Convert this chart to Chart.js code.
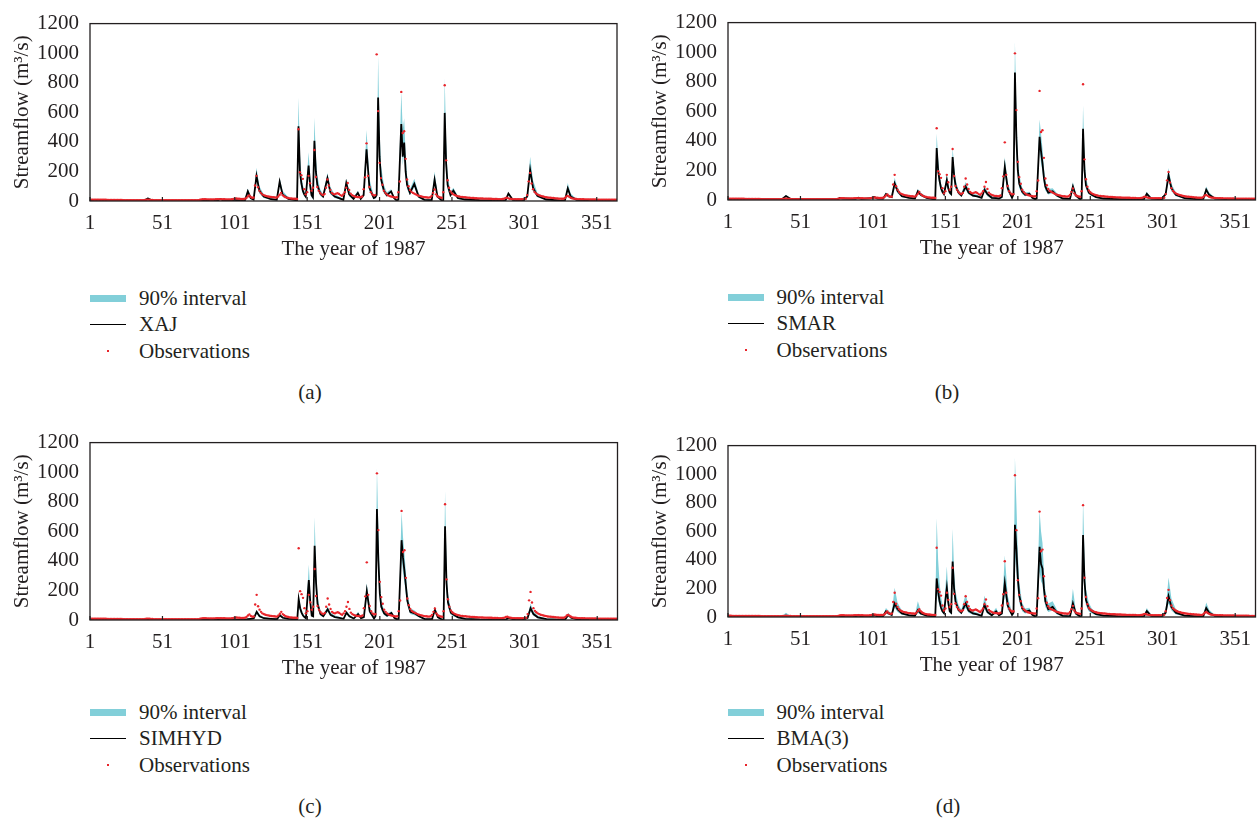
<!DOCTYPE html>
<html>
<head>
<meta charset="utf-8">
<title>Streamflow 1987</title>
<script src="https://cdn.jsdelivr.net/npm/chart.js@4.4.1/dist/chart.umd.min.js"></script>
<style>
  html, body { margin: 0; padding: 0; background: #fff; }
  body { position: relative; width: 1260px; height: 822px; overflow: hidden;
         font-family: "Liberation Serif", "DejaVu Serif", serif; color: #231f20; }
  canvas { position: absolute; }
  .row { position: absolute; height: 26px; line-height: 26px; font-size: 21px; white-space: nowrap; }
  .sw { position: absolute; }
  .cap { position: absolute; font-size: 21px; line-height: 24px; transform: translateX(-50%); }
</style>
</head>
<body>
<script>
// Days where the simulated series change slope (shared by all four panels)
const keyDays = [
  1, 38, 41, 44, 55, 77, 78, 80, 89,
  91, 93, 100, 102, 104, 108, 110, 112, 114, 116,
  118, 121, 126, 130, 132, 134, 138, 143, 144, 145,
  146, 147, 148, 149, 150, 152, 153, 154, 155, 156,
  157, 158, 160, 162, 165, 167, 170, 173, 176, 178,
  180, 183, 186, 188, 190, 192, 194, 197, 198, 199, 200,
  201, 202, 204, 206, 209, 211, 213, 214, 216, 217,
  218, 219, 220, 222, 225, 228, 232, 237, 239, 241,
  244, 245, 246, 247, 248, 250, 252, 255, 260, 270,
  288, 290, 293, 300, 303, 305, 307, 310,
  316, 325, 329, 331, 333, 337, 350, 365
];
const xTicks = [1, 51, 101, 151, 201, 251, 301, 351];

// Observed daily streamflow, day 1..365 (same in all panels)
const observed = [
  9,9,9,8,8,8,8,8,8,8, 8,8,7,7,7,7,7,7,7,7, 7,7,7,6,6,6,6,6,6,6, 6,6,6,6,6,6,6,6,7,8,
  9,8,7,7,6,6,6,6,6,6, 6,6,6,6,6,6,6,5,5,5, 5,5,5,5,5,5,5,5,5,5, 5,5,5,5,5,6,8,10,12,12,
  12,11,11,10,10,10,11,12,13,13, 12,12,12,12,11,11,11,11,12,14, 16,17,16,15,14,14,14,15,20,30,
  38,27,22,24,105,170,93,70,55,45, 40,36,33,31,29,27,26,25,24,23, 30,42,55,40,32,26,22,20,18,17,
  16,15,15,14,485,195,175,150,80,45, 60,170,120,70,90,345,162,95,70,55, 45,40,48,90,145,105,75,55,48,45,
  50,52,48,40,35,45,60,90,122,75, 50,40,35,30,28,27,26,25,30,80, 160,390,170,95,60,45,38,40,992,608,
  258,155,110,70,55,45,38,33,30,28, 26,24,25,60,132,738,460,472,285,145, 100,75,62,55,50,45,40,36,33,30,
  28,26,25,24,23,25,35,55,78,45, 32,27,24,22,60,783,275,140,90,65, 52,45,40,36,33,30,28,27,26,25,
  24,23,22,21,20,20,19,19,18,18, 17,17,16,16,16,15,15,15,14,14, 14,14,13,13,13,14,16,20,22,18,
  15,14,13,13,12,12,12,12,12,13, 14,15,40,133,190,118,80,62,52,45, 40,36,33,30,28,26,24,23,22,21,
  20,19,18,17,16,16,15,15,20,30, 35,28,22,18,16,15,14,13,13,12, 12,12,11,11,11,10,10,10,10,10,
  9,9,9,9,9,9,9,9,9,9, 8,8,8,8,8
];

// (a) XAJ
const xajSim = [
  3, 2, 17, 3, 2, 2, 6, 3, 3,
  12, 4, 3, 6, 4, 3, 65, 20, 10, 170,
  70, 30, 12, 8, 130, 45, 15, 6, 2, 505,
  200, 120, 70, 45, 30, 240, 110, 40, 25, 408,
  200, 110, 50, 30, 155, 60, 30, 20, 8, 122,
  45, 15, 55, 15, 40, 350, 90, 20, 25, 40, 700,
  300, 150, 70, 40, 65, 20, 2, 10, 520, 300,
  395, 200, 110, 55, 116, 30, 8, 5, 143, 30,
  3, 5, 596, 250, 110, 40, 70, 20, 10, 6,
  4, 50, 8, 3, 30, 210, 90, 35,
  10, 4, 3, 85, 30, 8, 3, 2
];
const xajHi = [
  8, 7, 25, 8, 6, 6, 10, 8, 7,
  18, 9, 8, 11, 9, 8, 85, 30, 18, 225,
  100, 45, 20, 14, 155, 70, 25, 12, 6, 700,
  320, 180, 110, 70, 45, 330, 170, 70, 45, 565,
  300, 170, 80, 45, 190, 95, 45, 30, 15, 150,
  75, 25, 70, 25, 55, 480, 150, 35, 40, 70, 980,
  480, 240, 110, 60, 80, 30, 6, 15, 740, 480,
  560, 320, 170, 80, 150, 50, 14, 10, 200, 50,
  6, 10, 830, 400, 170, 65, 90, 35, 18, 10,
  8, 60, 14, 7, 40, 300, 140, 55,
  18, 8, 6, 122, 50, 14, 6, 5
];
const xajLo = [
  1, 0, 10, 1, 0, 0, 3, 1, 1,
  7, 1, 1, 3, 1, 1, 50, 12, 5, 140,
  50, 20, 7, 4, 110, 30, 9, 2, 0, 420,
  150, 85, 50, 30, 20, 200, 80, 25, 15, 340,
  150, 80, 35, 20, 130, 45, 20, 12, 4, 100,
  30, 8, 45, 8, 30, 300, 65, 12, 15, 25, 600,
  230, 110, 50, 28, 55, 12, 0, 5, 450, 240,
  330, 150, 80, 40, 95, 20, 4, 2, 120, 20,
  0, 2, 520, 190, 80, 28, 55, 12, 6, 3,
  2, 40, 4, 1, 22, 175, 65, 25,
  6, 2, 1, 70, 22, 4, 1, 1
];

// (b) SMAR
const smarSim = [
  5, 4, 27, 8, 4, 5, 14, 10, 8,
  15, 8, 12, 20, 10, 8, 40, 25, 20, 112,
  60, 25, 15, 10, 59, 35, 15, 5, 3, 352,
  200, 130, 80, 55, 40, 135, 80, 50, 40, 291,
  170, 100, 50, 30, 91, 50, 30, 25, 15, 70,
  40, 15, 12, 10, 20, 225, 80, 15, 40, 862, 420,
  200, 110, 55, 35, 42, 15, 5, 10, 428, 330,
  250, 150, 90, 50, 59, 30, 10, 8, 91, 30,
  5, 10, 482, 200, 100, 50, 35, 20, 10, 6,
  5, 42, 10, 4, 40, 165, 80, 35,
  12, 5, 8, 70, 35, 10, 3, 2
];
const smarHi = [
  9, 7, 35, 12, 7, 8, 18, 14, 12,
  20, 12, 16, 26, 14, 12, 50, 35, 28, 150,
  85, 35, 20, 15, 75, 50, 22, 8, 6, 450,
  280, 180, 110, 75, 55, 170, 110, 70, 55, 355,
  230, 140, 70, 45, 122, 70, 42, 35, 22, 95,
  60, 25, 20, 18, 30, 290, 120, 25, 60, 1070, 600,
  300, 170, 85, 50, 55, 25, 8, 15, 545, 450,
  350, 220, 130, 75, 80, 45, 15, 12, 122, 45,
  8, 15, 640, 300, 150, 75, 50, 30, 15, 10,
  8, 55, 15, 7, 55, 217, 110, 50,
  18, 8, 12, 91, 50, 15, 6, 5
];
const smarLo = [
  3, 2, 20, 5, 2, 3, 10, 7, 5,
  10, 5, 8, 14, 6, 5, 30, 18, 14, 90,
  45, 18, 10, 6, 45, 25, 10, 3, 1, 280,
  150, 100, 60, 40, 30, 105, 60, 38, 30, 240,
  130, 75, 38, 22, 70, 38, 22, 18, 10, 55,
  25, 8, 6, 5, 12, 180, 55, 8, 25, 700, 320,
  150, 80, 40, 25, 30, 10, 2, 5, 340, 250,
  190, 110, 65, 38, 45, 20, 6, 4, 70, 20,
  2, 5, 380, 150, 75, 38, 25, 14, 6, 3,
  3, 30, 6, 2, 28, 130, 60, 25,
  8, 3, 5, 55, 25, 6, 1, 1
];

// (c) SIMHYD
const simhydSim = [
  2, 1, 2, 1, 1, 1, 3, 2, 2,
  3, 2, 4, 3, 2, 2, 5, 8, 10, 55,
  25, 12, 8, 5, 32, 15, 8, 4, 2, 140,
  80, 50, 30, 20, 12, 270, 120, 30, 25, 502,
  250, 110, 40, 25, 72, 35, 20, 15, 8, 50,
  25, 10, 40, 12, 20, 196, 60, 10, 25, 750, 400,
  180, 90, 45, 30, 48, 15, 3, 8, 540, 420,
  330, 230, 130, 55, 45, 25, 6, 5, 70, 20,
  2, 5, 634, 250, 120, 50, 35, 18, 8, 4,
  3, 15, 5, 2, 15, 80, 40, 18,
  6, 3, 5, 34, 15, 5, 2, 1
];
const simhydHi = [
  4, 3, 4, 3, 3, 3, 5, 4, 4,
  5, 4, 7, 5, 4, 4, 10, 14, 18, 70,
  35, 18, 12, 8, 42, 22, 12, 6, 4, 170,
  110, 70, 45, 30, 18, 376, 170, 45, 35, 697,
  350, 160, 60, 38, 90, 50, 30, 22, 12, 65,
  35, 15, 55, 18, 30, 249, 90, 15, 40, 1030, 600,
  270, 130, 65, 42, 60, 22, 6, 14, 735, 560,
  450, 320, 190, 80, 65, 38, 10, 8, 85, 30,
  5, 10, 872, 380, 180, 75, 50, 28, 12, 7,
  5, 22, 8, 4, 22, 112, 60, 28,
  10, 5, 8, 45, 22, 8, 4, 3
];
const simhydLo = [
  1, 0, 1, 0, 0, 0, 2, 1, 1,
  2, 1, 2, 2, 1, 1, 3, 5, 6, 40,
  18, 8, 5, 3, 24, 10, 5, 2, 1, 105,
  60, 38, 22, 14, 8, 200, 90, 22, 18, 380,
  180, 80, 28, 18, 55, 25, 14, 10, 5, 38,
  18, 6, 28, 8, 14, 150, 42, 6, 15, 600, 300,
  130, 65, 32, 20, 36, 10, 1, 4, 420, 320,
  250, 170, 95, 40, 32, 18, 3, 2, 55, 12,
  1, 2, 480, 180, 85, 35, 24, 12, 5, 2,
  1, 10, 3, 1, 10, 60, 28, 12,
  4, 1, 3, 25, 10, 3, 1, 0
];

// (d) BMA(3)
const bmaSim = [
  3, 2, 10, 3, 2, 3, 8, 5, 4,
  10, 4, 8, 12, 5, 5, 40, 25, 15, 95,
  55, 25, 12, 8, 48, 25, 10, 4, 2, 270,
  180, 110, 65, 40, 28, 204, 100, 40, 30, 389,
  200, 110, 50, 30, 95, 45, 25, 18, 8, 85,
  35, 12, 40, 12, 25, 237, 80, 15, 30, 646, 480,
  270, 150, 60, 38, 45, 15, 3, 10, 491, 370,
  340, 200, 110, 55, 70, 30, 8, 5, 95, 25,
  3, 8, 574, 250, 120, 60, 40, 20, 10, 6,
  4, 41, 8, 3, 30, 146, 70, 30,
  10, 4, 6, 63, 30, 8, 3, 2
];
const bmaHi = [
  8, 6, 30, 8, 6, 7, 14, 10, 8,
  22, 9, 14, 20, 10, 10, 63, 40, 30, 204,
  100, 45, 22, 15, 111, 45, 18, 8, 5, 693,
  400, 240, 140, 90, 50, 356, 180, 75, 55, 617,
  330, 180, 85, 50, 160, 80, 42, 30, 15, 150,
  60, 22, 65, 22, 45, 432, 150, 28, 60, 1117, 800,
  450, 240, 100, 60, 65, 25, 6, 18, 748, 600,
  520, 320, 180, 95, 110, 50, 14, 10, 198, 45,
  6, 15, 824, 420, 200, 100, 60, 32, 16, 10,
  8, 63, 14, 6, 50, 276, 130, 55,
  18, 8, 12, 102, 50, 14, 6, 5
];
const bmaLo = [
  1, 0, 5, 1, 0, 1, 4, 2, 1,
  5, 2, 4, 6, 2, 2, 22, 14, 8, 65,
  35, 15, 7, 4, 30, 15, 6, 2, 1, 180,
  120, 75, 45, 28, 18, 150, 70, 28, 20, 290,
  140, 75, 35, 20, 65, 30, 16, 12, 5, 55,
  22, 7, 25, 7, 15, 150, 50, 9, 18, 420, 320,
  180, 100, 40, 25, 30, 9, 1, 5, 320, 250,
  230, 130, 70, 35, 45, 18, 4, 2, 60, 14,
  1, 4, 380, 160, 80, 38, 25, 12, 6, 3,
  2, 25, 4, 1, 18, 95, 45, 18,
  6, 2, 3, 40, 18, 4, 1, 1
];

const bandColor = '#82cfd9';
const inkColor = '#231f20';
const obsColor = '#e8252b';

// plot rectangles (page pixels) and where the legend / caption go
const panels = [
  { name: 'XAJ',    sim: xajSim,    hi: xajHi,    lo: xajLo,    L: 90,    T: 11,    R: 617,    B: 201,   legY: 298, cap: '(a)', capX: 310, capY: 392 },
  { name: 'SMAR',   sim: smarSim,   hi: smarHi,   lo: smarLo,   L: 727.5, T: 10,    R: 1255,   B: 199.5, legY: 297, cap: '(b)', capX: 947, capY: 392 },
  { name: 'SIMHYD', sim: simhydSim, hi: simhydHi, lo: simhydLo, L: 90,    T: 430,   R: 617.5,  B: 619.5, legY: 712, cap: '(c)', capX: 310, capY: 806 },
  { name: 'BMA(3)', sim: bmaSim,    hi: bmaHi,    lo: bmaLo,    L: 727.5, T: 432.5, R: 1255,   B: 616.5, legY: 712, cap: '(d)', capX: 948, capY: 806 }
];

panels.forEach(p => {
  [p.sim, p.hi, p.lo].forEach(arr => {
    if (arr.length !== keyDays.length) console.error(p.name, 'length', arr.length, keyDays.length);
  });
});
if (observed.length !== 365) console.error('observed length', observed.length);

function toPoints(vals) {
  return keyDays.map((d, i) => ({ x: d, y: vals[i] }));
}
const obsPoints = observed.map((v, i) => ({ x: i + 1, y: v }));

// box round the plot and short inward ticks on the day axis
const framePlugin = {
  id: 'frame',
  afterDatasetsDraw(chart) {
    const { ctx, chartArea: a, scales: { x } } = chart;
    ctx.save();
    ctx.strokeStyle = inkColor;
    ctx.lineWidth = 1.3;
    ctx.strokeRect(a.left, a.top, a.right - a.left, a.bottom - a.top);
    ctx.lineWidth = 1.2;
    xTicks.forEach(d => {
      const px = x.getPixelForValue(d);
      ctx.beginPath();
      ctx.moveTo(px, a.bottom);
      ctx.lineTo(px, a.bottom - 4);
      ctx.stroke();
    });
    ctx.restore();
  }
};

Chart.defaults.font.family = '"Liberation Serif", "DejaVu Serif", serif';
Chart.defaults.font.size = 21;
Chart.defaults.color = inkColor;

const AXIS_W = 90, AXIS_H = 64;

panels.forEach(p => {
  const plotW = p.R - p.L, plotH = p.B - p.T;
  const cw = Math.round(plotW + AXIS_W + 5);
  const ch = Math.round(plotH + AXIS_H + 11);
  const padRight = cw - AXIS_W - plotW;
  const padTop = ch - AXIS_H - plotH;

  const canvas = document.createElement('canvas');
  canvas.width = cw;
  canvas.height = ch;
  canvas.style.left = (p.L - AXIS_W) + 'px';
  canvas.style.top = (p.T - padTop) + 'px';
  canvas.style.width = cw + 'px';
  canvas.style.height = ch + 'px';
  document.body.appendChild(canvas);

  new Chart(canvas, {
    type: 'line',
    data: {
      datasets: [
        {
          label: 'Observations',
          data: obsPoints,
          showLine: false,
          pointRadius: 1.2,
          pointBackgroundColor: obsColor,
          pointBorderWidth: 0,
          pointHoverRadius: 0
        },
        {
          label: p.name,
          data: toPoints(p.sim),
          borderColor: '#000',
          borderWidth: 1.8,
          pointRadius: 0,
          tension: 0,
          fill: false
        },
        {
          label: '90% interval',
          data: toPoints(p.hi),
          borderWidth: 0,
          borderColor: 'rgba(0,0,0,0)',
          backgroundColor: bandColor,
          pointRadius: 0,
          tension: 0,
          fill: '+1'
        },
        {
          label: 'lower',
          data: toPoints(p.lo),
          borderWidth: 0,
          borderColor: 'rgba(0,0,0,0)',
          pointRadius: 0,
          tension: 0,
          fill: false
        }
      ]
    },
    options: {
      responsive: false,
      animation: false,
      events: [],
      layout: { padding: { left: 0, top: padTop, right: padRight, bottom: 0 } },
      plugins: { legend: { display: false }, tooltip: { enabled: false } },
      scales: {
        x: {
          type: 'linear',
          min: 1,
          max: 365,
          grid: { display: false },
          border: { display: false },
          afterBuildTicks: scale => { scale.ticks = xTicks.map(v => ({ value: v })); },
          afterFit: scale => { scale.height = AXIS_H; },
          ticks: { autoSkip: false, maxRotation: 0, padding: 2, color: inkColor, callback: v => String(v) },
          title: { display: true, text: 'The year of 1987', color: inkColor, padding: { top: 0, bottom: 3 } }
        },
        y: {
          min: 0,
          max: 1200,
          grid: { display: false, drawTicks: false },
          border: { display: false },
          afterFit: scale => { scale.width = AXIS_W; },
          ticks: { stepSize: 200, padding: 11, color: inkColor, callback: v => String(v) },
          title: { display: true, text: 'Streamflow (m³/s)', color: inkColor, padding: { top: 10, bottom: 0 } }
        }
      }
    },
    plugins: [framePlugin]
  });

  // legend: band swatch, model line, observation dot
  const rows = [
    { text: '90% interval', kind: 'band' },
    { text: p.name, kind: 'line' },
    { text: 'Observations', kind: 'dot' }
  ];
  rows.forEach((r, i) => {
    const row = document.createElement('div');
    row.className = 'row';
    row.style.left = p.L + 'px';
    row.style.top = (p.legY + i * 26.3 - 13) + 'px';
    const sw = document.createElement('div');
    sw.className = 'sw';
    if (r.kind === 'band') {
      Object.assign(sw.style, { left: '0px', top: '9.5px', width: '36px', height: '7px', background: bandColor });
    } else if (r.kind === 'line') {
      Object.assign(sw.style, { left: '0px', top: '12.5px', width: '36px', height: '1.5px', background: '#000' });
    } else {
      Object.assign(sw.style, { left: '17px', top: '12px', width: '2px', height: '2px', background: obsColor });
    }
    const tx = document.createElement('span');
    tx.textContent = r.text;
    tx.style.position = 'absolute';
    tx.style.left = '49px';
    row.appendChild(sw);
    row.appendChild(tx);
    document.body.appendChild(row);
  });

  const cap = document.createElement('div');
  cap.className = 'cap';
  cap.textContent = p.cap;
  cap.style.left = p.capX + 'px';
  cap.style.top = (p.capY - 12) + 'px';
  document.body.appendChild(cap);
});
</script>
</body>
</html>
